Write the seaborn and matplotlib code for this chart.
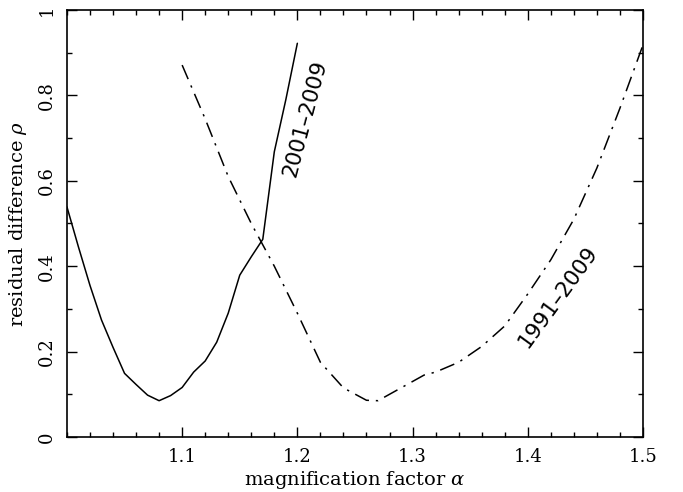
import numpy as np
import pandas as pd
import matplotlib
matplotlib.use('Agg')
import matplotlib.pyplot as plt
from matplotlib.ticker import MultipleLocator
import seaborn as sns

# 2001-2009 curve (solid)
alpha_0109 = [1.00, 1.01, 1.02, 1.03, 1.04, 1.05, 1.06, 1.07, 1.08, 1.09, 1.10,
              1.11, 1.12, 1.13, 1.14, 1.15, 1.16, 1.17, 1.18, 1.19, 1.20]
rho_0109 = [0.539, 0.445, 0.355, 0.274, 0.21, 0.149, 0.123, 0.098, 0.085, 0.097, 0.116,
            0.152, 0.178, 0.222, 0.29, 0.379, 0.422, 0.463, 0.668, 0.79, 0.922]

# 1991-2009 curve (dash-dot)
alpha_9109 = [1.10, 1.12, 1.14, 1.16, 1.18, 1.20, 1.22, 1.24, 1.26, 1.27, 1.28,
              1.30, 1.31, 1.32, 1.34, 1.36, 1.38, 1.40, 1.42, 1.44, 1.46, 1.48, 1.50]
rho_9109 = [0.871, 0.745, 0.61, 0.50, 0.40, 0.29, 0.175, 0.115, 0.086, 0.085, 0.10,
            0.13, 0.145, 0.152, 0.175, 0.212, 0.26, 0.335, 0.415, 0.51, 0.63, 0.77, 0.918]

x_ticks = [1.1, 1.2, 1.3, 1.4, 1.5]
y_ticks = [0, 0.2, 0.4, 0.6, 0.8, 1]
y_labels = ['0', '0.2', '0.4', '0.6', '0.8', '1']

sns.set_style('ticks')
plt.rcParams['font.family'] = ['DejaVu Serif']
plt.rcParams['mathtext.fontset'] = 'dejavuserif'
plt.rcParams['text.color'] = 'black'
plt.rcParams['axes.labelcolor'] = 'black'

fig = plt.figure(figsize=(6.83, 4.92), dpi=100)
ax = fig.add_axes([0.098, 0.1118, 0.8434, 0.8679])

sns.lineplot(x=alpha_0109, y=rho_0109, color='black', linewidth=1.1, ax=ax, sort=False)
sns.lineplot(x=alpha_9109, y=rho_9109, color='black', linewidth=1.1, ax=ax, sort=False,
             dashes=False)
ax.lines[-1].set_dashes((10, 4.5, 1.5, 4.5))

ax.set_xlim(1.0, 1.5)
ax.set_ylim(0, 1)
ax.set_xticks(x_ticks)
ax.set_xticklabels([str(v) for v in x_ticks])
ax.set_yticks(y_ticks)
ax.set_yticklabels(y_labels, rotation=90, va='center')
ax.xaxis.set_minor_locator(MultipleLocator(0.02))
ax.yaxis.set_minor_locator(MultipleLocator(0.1))
ax.tick_params(which='both', direction='in', top=True, right=True, width=1.0,
               labelsize=13, colors='black')
ax.tick_params(which='major', length=7.5, pad=8)
ax.tick_params(which='minor', length=3.8)
for s in ax.spines.values():
    s.set_linewidth(1.2)
    s.set_color('black')

ax.set_xlabel(r'magnification factor $\alpha$', fontsize=14, labelpad=2)
ax.set_ylabel(r'residual difference $\rho$', fontsize=14, labelpad=6)

ax.text(1.2066, 0.745, '2001\u20132009', rotation=75, ha='center', va='center',
        fontsize=15.5, family='DejaVu Sans', color='black')
ax.text(1.426, 0.328, '1991\u20132009', rotation=54, ha='center', va='center',
        fontsize=15.5, family='DejaVu Sans', color='black')

fig.savefig('out.png', dpi=100)
